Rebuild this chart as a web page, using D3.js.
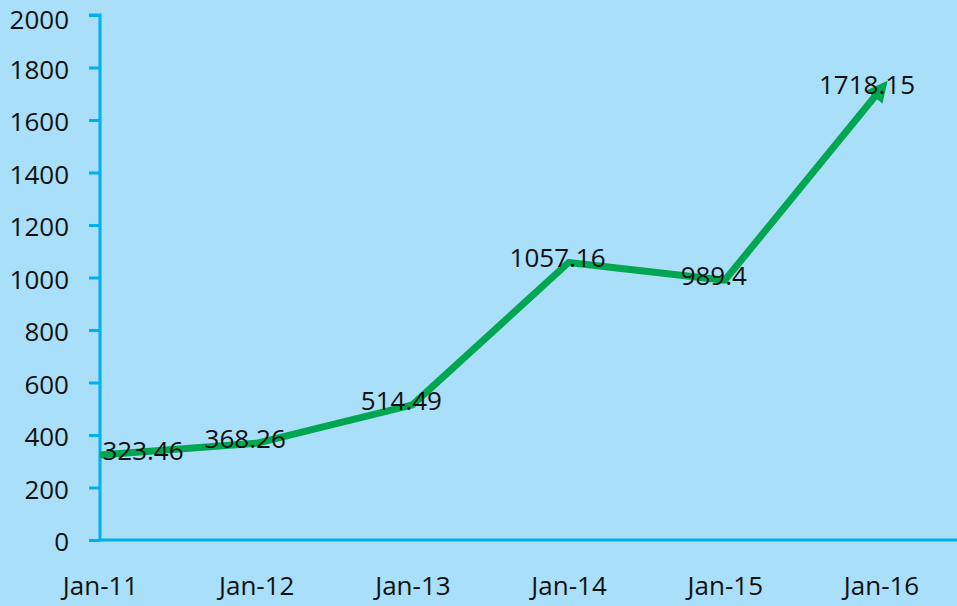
<!DOCTYPE html>
<html><head><meta charset="utf-8">
<script src="https://cdn.jsdelivr.net/npm/d3@7"></script>
<style>html,body{margin:0;padding:0;background:#a9dff9;}svg{display:block;}</style>
</head><body>
<svg id="c" width="957" height="606"></svg>
<script>
const categories = ["Jan-11","Jan-12","Jan-13","Jan-14","Jan-15","Jan-16"];
const values = [323.46, 368.26, 514.49, 1057.16, 989.4, 1718.15];
const labels = ["323.46","368.26","514.49","1057.16","989.4","1718.15"];
const yTicks = [0,200,400,600,800,1000,1200,1400,1600,1800,2000];

(function(){
const svg = d3.select("#c");
const W = 957, H = 606;
const mLeft = 100, mRight = 881, mTop = 15, mBottom = 540;
const font = "'Open Sans', sans-serif";
const axisColor = "#00b0f0";

svg.append("rect").attr("width", W).attr("height", H).attr("fill", "#a9dff9");

const x = d3.scalePoint().domain(categories).range([mLeft, mRight]);
const y = d3.scaleLinear().domain([0, 2000]).range([mBottom, mTop]);

// y axis
const yAxis = svg.append("g").attr("transform", `translate(${mLeft},0)`)
  .call(d3.axisLeft(y).tickValues(yTicks).tickSize(11).tickPadding(20).tickFormat(d3.format("d")));
yAxis.select(".domain").attr("stroke", axisColor).attr("stroke-width", 3)
  .attr("d", `M-11,${mTop}H0V${mBottom}`);
yAxis.selectAll(".tick line").attr("stroke", axisColor).attr("stroke-width", 3);
yAxis.selectAll(".tick text").attr("fill", "#111")
  .attr("dy", d => d === 2000 ? "0.5em" : "0.42em")
  .style("font-family", font).style("font-size", "26px");

// x axis
const xAxis = svg.append("g").attr("transform", `translate(0,${mBottom})`)
  .call(d3.axisBottom(x).tickSize(0).tickPadding(37));
xAxis.select(".domain").attr("stroke", axisColor).attr("stroke-width", 3)
  .attr("d", `M${mLeft},0H${W}`);
xAxis.selectAll(".tick text").attr("fill", "#111").style("font-family", font).style("font-size", "26px");

// arrow marker
svg.append("defs").append("marker")
  .attr("id", "arr").attr("viewBox", "0 0 10 10").attr("refX", 5).attr("refY", 5)
  .attr("markerWidth", 3).attr("markerHeight", 3).attr("orient", "auto")
  .attr("markerUnits", "strokeWidth")
  .append("path").attr("d", "M0,0L10,5L0,10Z").attr("fill", "#00a651");

const data = categories.map((c, i) => ({c, v: values[i], l: labels[i]}));
const line = d3.line().x(d => x(d.c)).y(d => y(d.v));
svg.append("path").datum(data).attr("d", line)
  .attr("fill", "none").attr("stroke", "#00a651").attr("stroke-width", 7)
  .attr("stroke-linejoin", "round").attr("marker-end", "url(#arr)");

// data labels
svg.append("g").selectAll("text").data(data).join("text")
  .attr("x", (d, i) => i === 0 ? x(d.c) + 43 : x(d.c) - (i === 5 ? 14 : 11))
  .attr("y", d => y(d.v) + 5)
  .attr("text-anchor", "middle")
  .attr("fill", "#111").style("font-family", font).style("font-size", "26px")
  .text(d => d.l);
})();
</script>
</body></html>
